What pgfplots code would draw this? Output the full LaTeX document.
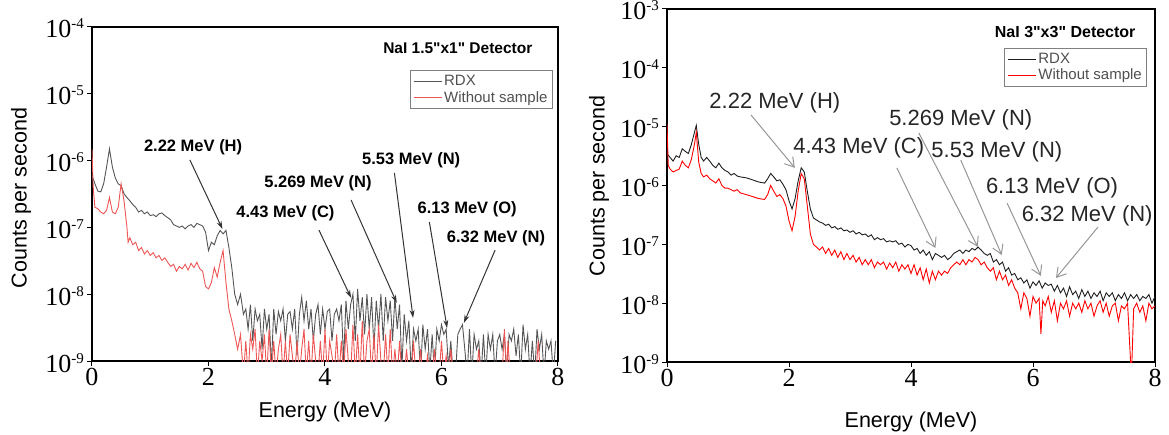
\documentclass[border=0pt]{standalone}
\usepackage{fontspec}
\setmainfont{Liberation Sans}
\newfontfamily\timesfont{Liberation Serif}
\newfontfamily\titlefont{Liberation Sans}
\usepackage{pgfplots}
\pgfplotsset{compat=1.18}
\usepackage{pgfplotstable}
\usetikzlibrary{arrows.meta}

\definecolor{lblack}{RGB}{85,85,85}
\definecolor{lred}{RGB}{238,85,85}
\definecolor{rblack}{RGB}{30,30,30}
\definecolor{rred}{RGB}{255,0,0}
\definecolor{arrgray}{RGB}{150,150,150}
\definecolor{legtext}{RGB}{80,80,80}

% ---------------- left panel: NaI 1.5"x1" ----------------
\pgfplotstableread[row sep=\\]{
x y\\
0 6e-7\\ 0.05 4.5e-7\\ 0.1 3.5e-7\\ 0.15 3.4e-7\\ 0.2 4.5e-7\\ 0.25 8e-7\\ 0.3 1.5e-6\\ 0.35 8e-7\\ 0.4 5.5e-7\\ 0.45 4.5e-7\\
0.5 4.2e-7\\ 0.55 3.2e-7\\ 0.6 2.8e-7\\ 0.65 2.5e-7\\ 0.7 2.2e-7\\ 0.75 2e-7\\ 0.8 1.7e-7\\ 0.85 1.8e-7\\ 0.9 1.6e-7\\ 0.95 1.7e-7\\
1.0 1.5e-7\\ 1.05 1.55e-7\\ 1.1 1.45e-7\\ 1.15 1.6e-7\\ 1.2 1.65e-7\\ 1.25 1.5e-7\\ 1.3 1.4e-7\\ 1.35 1.3e-7\\ 1.4 1.1e-7\\ 1.45 1.05e-7\\
1.5 1e-7\\ 1.55 1.05e-7\\ 1.6 9.5e-8\\ 1.65 1.05e-7\\ 1.7 1.1e-7\\ 1.75 1e-7\\ 1.8 1.15e-7\\ 1.85 1.1e-7\\ 1.9 1.05e-7\\ 1.95 8.5e-8\\
2.0 4.5e-8\\ 2.05 6e-8\\ 2.1 5.5e-8\\ 2.15 7.5e-8\\ 2.2 9e-8\\ 2.25 8e-8\\ 2.3 9e-8\\ 2.35 5e-8\\ 2.4 2.5e-8\\ 2.45 1e-8\\
2.5 7e-9\\ 2.55 1e-8\\ 2.6 5e-9\\ 2.64 6e-9\\ 2.68 3e-9\\ 2.72 7e-9\\ 2.76 2e-9\\ 2.80 6e-9\\ 2.84 4e-9\\ 2.88 5e-9\\
2.92 1.5e-9\\ 2.96 6e-9\\ 3.00 3e-9\\ 3.04 5e-9\\ 3.08 8e-10\\ 3.12 6e-9\\ 3.16 2.5e-9\\ 3.20 5.5e-9\\ 3.24 4e-9\\ 3.28 6e-9\\
3.32 2e-9\\ 3.36 5e-9\\ 3.40 5.5e-9\\ 3.44 3e-9\\ 3.48 6e-9\\ 3.52 1.2e-9\\ 3.56 5e-9\\ 3.60 9e-9\\ 3.64 4e-9\\ 3.68 8e-9\\
3.72 3e-9\\ 3.76 6e-9\\ 3.80 2e-9\\ 3.84 5e-9\\ 3.88 7e-9\\ 3.92 2.5e-9\\ 3.96 6e-9\\ 4.00 3e-9\\ 4.04 5.5e-9\\ 4.08 6e-9\\
4.12 2e-9\\ 4.16 5e-9\\ 4.20 6e-9\\ 4.24 4e-9\\ 4.28 7e-9\\ 4.32 1e-9\\ 4.36 8e-9\\ 4.40 3e-9\\ 4.44 7e-9\\ 4.48 1e-8\\
4.52 2e-9\\ 4.56 1.2e-8\\ 4.60 4e-9\\ 4.64 9e-9\\ 4.68 2.5e-9\\ 4.72 1e-8\\ 4.76 3e-9\\ 4.80 9e-9\\ 4.84 1.5e-9\\ 4.88 8e-9\\
4.92 3e-9\\ 4.96 1e-8\\ 5.00 2e-9\\ 5.04 9e-9\\ 5.08 4e-9\\ 5.12 8e-9\\ 5.16 2e-9\\ 5.20 9e-9\\ 5.24 3e-9\\ 5.28 7e-9\\
5.32 8e-10\\ 5.36 5e-9\\ 5.40 2e-9\\ 5.44 4e-9\\ 5.48 7e-10\\ 5.52 3e-9\\ 5.56 2e-9\\ 5.60 3e-9\\ 5.64 6e-10\\ 5.68 3.5e-9\\
5.72 1.5e-9\\ 5.76 3e-9\\ 5.80 7e-10\\ 5.84 2.5e-9\\ 5.88 6e-10\\ 5.92 3e-9\\ 5.96 2e-9\\ 6.00 3.5e-9\\ 6.04 2.5e-9\\ 6.08 3e-9\\
6.12 8e-10\\ 6.16 2e-9\\ 6.20 6e-10\\ 6.24 6e-10\\ 6.28 2.5e-9\\ 6.32 3e-9\\ 6.36 3.5e-9\\ 6.40 1.5e-9\\ 6.44 6e-10\\ 6.48 3e-9\\
6.52 6e-10\\ 6.56 2.5e-9\\ 6.60 1.5e-9\\ 6.64 2e-9\\ 6.68 6e-10\\ 6.72 2.5e-9\\ 6.76 6e-10\\ 6.80 2.5e-9\\ 6.84 1.5e-9\\ 6.88 2.5e-9\\
6.92 6e-10\\ 6.96 2e-9\\ 7.00 2.5e-9\\ 7.04 1.5e-9\\ 7.08 2.5e-9\\ 7.12 6e-10\\ 7.16 2.5e-9\\ 7.20 2e-9\\ 7.24 3e-9\\ 7.28 1.2e-9\\
7.32 2.5e-9\\ 7.36 6e-10\\ 7.40 3.5e-9\\ 7.44 1.5e-9\\ 7.48 2.5e-9\\ 7.52 6e-10\\ 7.56 2e-9\\ 7.60 6e-10\\ 7.64 3e-9\\ 7.68 1.5e-9\\
7.72 2.5e-9\\ 7.76 6e-10\\ 7.80 2e-9\\ 7.84 1.5e-9\\ 7.88 2e-9\\ 7.92 6e-10\\ 7.96 2e-9\\
}\leftrdx

\pgfplotstableread[row sep=\\]{
x y\\
0 1.5e-6\\ 0.02 4e-7\\ 0.05 2e-7\\ 0.1 1.9e-7\\ 0.15 1.7e-7\\ 0.2 1.6e-7\\ 0.25 1.8e-7\\ 0.3 2.8e-7\\ 0.35 1.7e-7\\ 0.4 1.6e-7\\
0.45 2e-7\\ 0.5 4.5e-7\\ 0.55 2.5e-7\\ 0.6 1e-7\\ 0.62 6e-8\\ 0.65 7e-8\\ 0.7 5.5e-8\\ 0.75 6e-8\\ 0.8 4.5e-8\\ 0.85 5e-8\\
0.9 4e-8\\ 0.95 4.5e-8\\ 1.0 3.8e-8\\ 1.05 4.2e-8\\ 1.1 3.5e-8\\ 1.15 3.8e-8\\ 1.2 3.2e-8\\ 1.25 3.5e-8\\ 1.3 3e-8\\ 1.35 2.6e-8\\
1.4 2.8e-8\\ 1.45 2.2e-8\\ 1.5 2.6e-8\\ 1.55 2.4e-8\\ 1.6 2.8e-8\\ 1.65 2.3e-8\\ 1.7 2.9e-8\\ 1.75 2.5e-8\\ 1.8 3e-8\\ 1.85 2.4e-8\\
1.9 2.2e-8\\ 1.95 1.3e-8\\ 2.0 1.2e-8\\ 2.05 1.5e-8\\ 2.1 2.5e-8\\ 2.15 1.8e-8\\ 2.2 3e-8\\ 2.25 4.5e-8\\ 2.3 1.5e-8\\ 2.35 6e-9\\
2.4 4e-9\\ 2.45 2.5e-9\\ 2.5 1.5e-9\\ 2.55 2.5e-9\\ 2.6 6e-10\\ 2.64 2e-9\\ 2.68 6e-10\\ 2.72 2.5e-9\\ 2.76 1.5e-9\\ 2.80 3e-9\\
2.84 6e-10\\ 2.88 2e-9\\ 2.92 1e-9\\ 2.96 2.5e-9\\ 3.00 6e-10\\ 3.04 3e-9\\ 3.08 6e-10\\ 3.12 2e-9\\ 3.16 6e-10\\ 3.20 1.5e-9\\
3.24 2.5e-9\\ 3.28 6e-10\\ 3.32 2e-9\\ 3.36 6e-10\\ 3.40 2.5e-9\\ 3.44 1.2e-9\\ 3.48 6e-10\\ 3.52 2e-9\\ 3.56 6e-10\\ 3.60 1.5e-9\\
3.64 3e-9\\ 3.68 6e-10\\ 3.72 2e-9\\ 3.76 6e-10\\ 3.80 2.5e-9\\ 3.84 1e-9\\ 3.88 6e-10\\ 3.92 2e-9\\ 3.96 6e-10\\ 4.00 3e-9\\
4.04 6e-10\\ 4.08 2e-9\\ 4.12 1.2e-9\\ 4.16 6e-10\\ 4.20 2.5e-9\\ 4.24 6e-10\\ 4.28 2e-9\\ 4.32 6e-10\\ 4.36 3e-9\\ 4.40 1e-9\\
4.44 6e-10\\ 4.48 3.5e-9\\ 4.52 6e-10\\ 4.56 2.5e-9\\ 4.60 6e-10\\ 4.64 4e-9\\ 4.68 6e-10\\ 4.72 2e-9\\ 4.76 3e-9\\ 4.80 6e-10\\
4.84 2.5e-9\\ 4.88 6e-10\\ 4.92 3.5e-9\\ 4.96 1e-9\\ 5.00 6e-10\\ 5.04 2.5e-9\\ 5.08 6e-10\\ 5.12 3e-9\\ 5.16 6e-10\\ 5.20 1.5e-9\\
5.24 6e-10\\ 5.28 2e-9\\ 5.32 6e-10\\ 5.36 6e-10\\ 5.40 1.5e-9\\ 5.44 6e-10\\ 5.48 6e-10\\ 5.52 2e-9\\ 5.56 6e-10\\ 5.60 6e-10\\
5.64 1.5e-9\\ 5.68 6e-10\\ 5.72 6e-10\\ 5.76 1.2e-9\\ 5.80 6e-10\\ 5.84 6e-10\\ 5.88 1.5e-9\\ 5.92 6e-10\\ 5.96 6e-10\\ 6.00 2e-9\\
6.04 6e-10\\ 6.08 1.2e-9\\ 6.12 6e-10\\ 6.16 1.5e-9\\ 6.20 6e-10\\ 6.60 6e-10\\ 6.64 1.5e-9\\ 6.68 6e-10\\ 7.04 6e-10\\ 7.08 3e-9\\
7.12 6e-10\\ 7.14 2e-9\\ 7.18 6e-10\\ 7.62 6e-10\\ 7.66 2e-9\\ 7.70 6e-10\\ 7.96 6e-10\\
}\leftbg

% ---------------- right panel: NaI 3"x3" ----------------
\pgfplotstableread[row sep=\\]{
x y\\
0 3.5e-6\\ 0.05 3e-6\\ 0.1 2.6e-6\\ 0.15 3.2e-6\\ 0.2 3e-6\\ 0.25 4.2e-6\\ 0.3 3.8e-6\\ 0.35 3.5e-6\\ 0.4 5e-6\\ 0.45 8e-6\\
0.48 1.05e-5\\ 0.52 5e-6\\ 0.56 3e-6\\ 0.6 2.6e-6\\ 0.65 3e-6\\ 0.7 2.6e-6\\ 0.75 2.2e-6\\ 0.8 2e-6\\ 0.85 2.4e-6\\ 0.9 2e-6\\
0.95 1.8e-6\\ 1.0 1.7e-6\\ 1.05 1.5e-6\\ 1.1 1.6e-6\\ 1.15 1.45e-6\\ 1.2 1.4e-6\\ 1.3 1.35e-6\\ 1.4 1.25e-6\\ 1.5 1.15e-6\\ 1.6 1.1e-6\\
1.65 1.3e-6\\ 1.7 1.6e-6\\ 1.75 1.4e-6\\ 1.8 1.2e-6\\ 1.85 1.25e-6\\ 1.9 1.05e-6\\ 1.95 8.5e-7\\ 2.0 5.5e-7\\ 2.05 4e-7\\ 2.1 6e-7\\
2.15 1.2e-6\\ 2.2 2e-6\\ 2.25 1.7e-6\\ 2.3 8e-7\\ 2.35 4e-7\\ 2.4 2.8e-7\\ 2.45 2.6e-7\\ 2.5 2.4e-7\\ 2.55 2.3e-7\\ 2.6 2.1e-7\\
2.65 2.2e-7\\ 2.7 1.9e-7\\ 2.75 2e-7\\ 2.8 1.8e-7\\ 2.85 1.9e-7\\ 2.9 1.7e-7\\ 2.95 1.75e-7\\ 3.0 1.6e-7\\ 3.05 1.7e-7\\ 3.1 1.5e-7\\
3.15 1.6e-7\\ 3.2 1.45e-7\\ 3.25 1.5e-7\\ 3.3 1.35e-7\\ 3.35 1.45e-7\\ 3.4 1.2e-7\\ 3.45 1.3e-7\\ 3.5 1.2e-7\\ 3.55 1.25e-7\\ 3.6 1.1e-7\\
3.65 1.15e-7\\ 3.7 1.1e-7\\ 3.75 1.15e-7\\ 3.8 1e-7\\ 3.85 1.05e-7\\ 3.9 9e-8\\ 3.95 1e-7\\ 4.0 9.5e-8\\ 4.05 8e-8\\ 4.1 8.5e-8\\
4.15 7e-8\\ 4.2 8e-8\\ 4.25 6.5e-8\\ 4.3 7.5e-8\\ 4.35 5.5e-8\\ 4.4 7e-8\\ 4.45 6.5e-8\\ 4.5 6e-8\\ 4.55 6.5e-8\\ 4.6 5.5e-8\\
4.65 6e-8\\ 4.7 7e-8\\ 4.75 7.5e-8\\ 4.8 8e-8\\ 4.85 7e-8\\ 4.9 8e-8\\ 4.95 7.5e-8\\ 5.0 8.5e-8\\ 5.05 8e-8\\ 5.1 9e-8\\
5.15 8e-8\\ 5.2 7e-8\\ 5.25 6.5e-8\\ 5.3 7e-8\\ 5.35 5e-8\\ 5.4 5.5e-8\\ 5.45 4.5e-8\\ 5.5 5e-8\\ 5.55 3.5e-8\\ 5.6 4e-8\\
5.65 3e-8\\ 5.7 3.2e-8\\ 5.75 2.5e-8\\ 5.8 2.7e-8\\ 5.85 2.2e-8\\ 5.9 2.5e-8\\ 5.95 1.8e-8\\ 6.0 2.3e-8\\ 6.05 2e-8\\ 6.1 2.4e-8\\
6.15 1.8e-8\\ 6.2 2.2e-8\\ 6.25 2e-8\\ 6.3 2.1e-8\\ 6.35 1.6e-8\\ 6.4 2e-8\\ 6.45 1.5e-8\\ 6.5 1.8e-8\\ 6.55 1.3e-8\\ 6.6 1.9e-8\\
6.65 1.4e-8\\ 6.7 1.6e-8\\ 6.75 1.2e-8\\ 6.8 1.7e-8\\ 6.85 1.3e-8\\ 6.9 1.6e-8\\ 6.95 1.2e-8\\ 7.0 1.5e-8\\ 7.05 1.3e-8\\ 7.1 1.6e-8\\
7.15 1.1e-8\\ 7.2 1.5e-8\\ 7.25 1.3e-8\\ 7.3 1.5e-8\\ 7.35 1.1e-8\\ 7.4 1.4e-8\\ 7.45 1.2e-8\\ 7.5 1.5e-8\\ 7.55 1.1e-8\\ 7.6 1.4e-8\\
7.65 1.2e-8\\ 7.7 1.4e-8\\ 7.75 1.1e-8\\ 7.8 1.3e-8\\ 7.85 1.2e-8\\ 7.9 1.4e-8\\ 7.95 1e-8\\ 8.0 1.3e-8\\
}\rightrdx

\pgfplotstableread[row sep=\\]{
x y\\
0 1.1e-5\\ 0.02 2.2e-6\\ 0.05 1.9e-6\\ 0.1 1.7e-6\\ 0.15 1.8e-6\\ 0.2 1.9e-6\\ 0.25 2.6e-6\\ 0.3 2.2e-6\\ 0.35 2e-6\\ 0.4 2.8e-6\\
0.45 5e-6\\ 0.48 8e-6\\ 0.52 2.5e-6\\ 0.56 1.6e-6\\ 0.6 1.4e-6\\ 0.65 1.5e-6\\ 0.7 1.3e-6\\ 0.75 1.2e-6\\ 0.8 1.1e-6\\ 0.85 1.3e-6\\
0.9 1e-6\\ 0.95 9e-7\\ 1.0 9e-7\\ 1.1 8e-7\\ 1.15 8.5e-7\\ 1.2 7.5e-7\\ 1.3 7e-7\\ 1.4 6.5e-7\\ 1.5 6e-7\\ 1.6 5.8e-7\\
1.65 7e-7\\ 1.7 1e-6\\ 1.75 8e-7\\ 1.8 6.5e-7\\ 1.85 7e-7\\ 1.9 6e-7\\ 1.95 4.5e-7\\ 2.0 2.5e-7\\ 2.05 1.7e-7\\ 2.1 3e-7\\
2.15 8e-7\\ 2.2 1.6e-6\\ 2.25 1.3e-6\\ 2.3 4.5e-7\\ 2.35 1.5e-7\\ 2.4 1e-7\\ 2.45 9e-8\\ 2.5 8e-8\\ 2.55 9e-8\\ 2.6 7e-8\\
2.65 8.5e-8\\ 2.7 6.5e-8\\ 2.75 8e-8\\ 2.8 6e-8\\ 2.85 7.5e-8\\ 2.9 5.5e-8\\ 2.95 7e-8\\ 3.0 5.5e-8\\ 3.05 6.5e-8\\ 3.1 5e-8\\
3.15 6e-8\\ 3.2 4.5e-8\\ 3.25 5.5e-8\\ 3.3 4.5e-8\\ 3.35 5.5e-8\\ 3.4 4e-8\\ 3.45 5e-8\\ 3.5 4.5e-8\\ 3.55 5e-8\\ 3.6 3.8e-8\\
3.65 4.8e-8\\ 3.7 4e-8\\ 3.75 5e-8\\ 3.8 3.5e-8\\ 3.85 4.5e-8\\ 3.9 3.8e-8\\ 3.95 4.5e-8\\ 4.0 3.2e-8\\ 4.05 4.5e-8\\ 4.1 3e-8\\
4.15 4e-8\\ 4.2 2.5e-8\\ 4.25 3.8e-8\\ 4.3 2.2e-8\\ 4.35 3.5e-8\\ 4.4 2.5e-8\\ 4.45 3.5e-8\\ 4.5 3e-8\\ 4.55 3.5e-8\\ 4.6 3.2e-8\\
4.65 4e-8\\ 4.7 4.5e-8\\ 4.75 5e-8\\ 4.8 4.5e-8\\ 4.85 5.5e-8\\ 4.9 4.5e-8\\ 4.95 5.5e-8\\ 5.0 5e-8\\ 5.05 6e-8\\ 5.1 5.5e-8\\
5.15 4.5e-8\\ 5.2 5e-8\\ 5.25 4e-8\\ 5.3 3.5e-8\\ 5.35 4e-8\\ 5.4 2.5e-8\\ 5.45 3.5e-8\\ 5.5 2.5e-8\\ 5.55 3e-8\\ 5.6 2e-8\\
5.65 2.5e-8\\ 5.7 1.8e-8\\ 5.75 1.5e-8\\ 5.8 8e-9\\ 5.85 1.5e-8\\ 5.9 1.2e-8\\ 5.95 6e-9\\ 6.0 1.3e-8\\ 6.05 1e-8\\ 6.1 1.2e-8\\
6.13 3e-9\\ 6.16 1.1e-8\\ 6.2 9e-9\\ 6.25 1.3e-8\\ 6.3 7e-9\\ 6.35 1.1e-8\\ 6.4 5e-9\\ 6.45 1e-8\\ 6.5 8e-9\\ 6.55 1.1e-8\\
6.6 6e-9\\ 6.65 1e-8\\ 6.7 8e-9\\ 6.75 1e-8\\ 6.8 7e-9\\ 6.85 1.1e-8\\ 6.9 8e-9\\ 6.95 1e-8\\ 7.0 6e-9\\ 7.05 9e-9\\
7.1 1.1e-8\\ 7.15 7e-9\\ 7.2 1e-8\\ 7.25 6e-9\\ 7.3 9e-9\\ 7.35 1e-8\\ 7.4 5e-9\\ 7.45 9e-9\\ 7.5 8e-9\\ 7.55 1e-8\\
7.6 1e-9\\ 7.62 9e-10\\ 7.65 8e-9\\ 7.7 1e-8\\ 7.75 7e-9\\ 7.8 9e-9\\ 7.85 5e-9\\ 7.9 1e-8\\ 7.95 8e-9\\ 8.0 9e-9\\
}\rightbg

\newcommand{\tickfont}{\timesfont\fontsize{26}{28}\selectfont}
\newcommand{\labfont}{\fontsize{21.5}{24}\selectfont}
\newcommand{\dec}[1]{10\raisebox{9pt}{\fontsize{15}{15}\selectfont #1}}

\begin{document}
\begin{tikzpicture}[x=1pt,y=1pt]
\path[use as bounding box] (0,0) rectangle (1169,435);

% ---------------- left axis ----------------
\begin{axis}[
  at={(92pt,74pt)}, anchor=south west,
  scale only axis,
  width=466pt, height=334pt,
  ymode=log,
  xmin=0, xmax=8,
  ymin=1e-9, ymax=1e-4,
  xtick={0,2,4,6,8},
  xticklabels={0,2,4,6,8},
  ytick={1e-9,1e-8,1e-7,1e-6,1e-5,1e-4},
  yticklabels={\dec{-9},\dec{-8},\dec{-7},\dec{-6},\dec{-5},\dec{-4}},
  xtick pos=bottom, ytick pos=left,
  tick align=outside,
  major tick length=5pt,
  yminorticks=false, xminorticks=false,
  axis line style={line width=2.2pt},
  major tick style={black, line width=1pt},
  xticklabel style={font=\tickfont, inner sep=2pt},
  yticklabel style={font=\tickfont, inner sep=3pt, anchor=base east, yshift=-11pt},
  clip mode=individual,
  xlabel={Energy (MeV)},
  ylabel={Counts per second},
  xlabel style={font=\labfont, at={(axis description cs:0.5,-0.153)}, anchor=center},
  ylabel style={font=\labfont, at={(axis description cs:-0.152,0.488)}, anchor=center},
  legend cell align=left,
  legend style={at={(axis description cs:0.989,0.871)}, anchor=north east,
    draw=gray, line width=0.8pt, font=\fontsize{15}{17}\selectfont,
    inner sep=3pt, row sep=0pt},
]
\addplot[draw=lblack, line width=0.9pt,
  legend image code/.code={\draw[draw=lblack, line width=1pt] (0pt,0pt) -- (28pt,0pt);}] table {\leftrdx};
\addlegendentry{\textcolor{legtext}{RDX}}
\addplot[draw=lred, line width=0.9pt,
  legend image code/.code={\draw[draw=lred, line width=1pt] (0pt,0pt) -- (28pt,0pt);}] table {\leftbg};
\addlegendentry{\textcolor{legtext}{Without sample}}

\node[font=\titlefont\bfseries\fontsize{15.5}{18}\selectfont] at (axis description cs:0.785,0.937) {NaI 1.5"x1" Detector};

\node[font=\bfseries\fontsize{16.5}{19}\selectfont, inner sep=0pt] at (axis description cs:0.217,0.641) {2.22 MeV (H)};
\node[font=\bfseries\fontsize{16.5}{19}\selectfont, inner sep=0pt] at (axis description cs:0.415,0.443) {4.43 MeV (C)};
\node[font=\bfseries\fontsize{16.5}{19}\selectfont, inner sep=0pt] at (axis description cs:0.485,0.533) {5.269 MeV (N)};
\node[font=\bfseries\fontsize{16.5}{19}\selectfont, inner sep=0pt] at (axis description cs:0.685,0.602) {5.53 MeV (N)};
\node[font=\bfseries\fontsize{16.5}{19}\selectfont, inner sep=0pt] at (axis description cs:0.805,0.455) {6.13 MeV (O)};
\node[font=\bfseries\fontsize{16.5}{19}\selectfont, inner sep=0pt] at (axis description cs:0.867,0.368) {6.32 MeV (N)};

\draw[black!80, line width=1pt, -{Stealth[length=8pt,width=5pt]}] (axis description cs:0.210,0.602) -- (axis description cs:0.280,0.395);
\draw[black!80, line width=1pt, -{Stealth[length=8pt,width=5pt]}] (axis description cs:0.487,0.392) -- (axis description cs:0.556,0.189);
\draw[black!80, line width=1pt, -{Stealth[length=8pt,width=5pt]}] (axis description cs:0.556,0.482) -- (axis description cs:0.654,0.174);
\draw[black!80, line width=1pt, -{Stealth[length=8pt,width=5pt]}] (axis description cs:0.649,0.563) -- (axis description cs:0.689,0.129);
\draw[black!80, line width=1pt, -{Stealth[length=8pt,width=5pt]}] (axis description cs:0.724,0.416) -- (axis description cs:0.762,0.099);
\draw[black!80, line width=1pt, -{Stealth[length=8pt,width=5pt]}] (axis description cs:0.865,0.332) -- (axis description cs:0.798,0.114);
\end{axis}

% ---------------- right axis ----------------
\begin{axis}[
  at={(667pt,73pt)}, anchor=south west,
  scale only axis,
  width=488pt, height=353pt,
  ymode=log,
  xmin=0, xmax=8,
  ymin=1e-9, ymax=1e-3,
  xtick={0,2,4,6,8},
  xticklabels={0,2,4,6,8},
  ytick={1e-9,1e-8,1e-7,1e-6,1e-5,1e-4,1e-3},
  yticklabels={\dec{-9},\dec{-8},\dec{-7},\dec{-6},\dec{-5},\dec{-4},\dec{-3}},
  xtick pos=bottom, ytick pos=left,
  tick align=outside,
  major tick length=5pt,
  yminorticks=false, xminorticks=false,
  axis line style={line width=2.2pt},
  major tick style={black, line width=1pt},
  xticklabel style={font=\tickfont, inner sep=2pt},
  yticklabel style={font=\tickfont, inner sep=3pt, anchor=base east, yshift=-11pt},
  clip mode=individual,
  xlabel={Energy (MeV)},
  ylabel={Counts per second},
  xlabel style={font=\labfont, at={(axis description cs:0.5,-0.17)}, anchor=center},
  ylabel style={font=\labfont, at={(axis description cs:-0.139,0.499)}, anchor=center},
  legend cell align=left,
  legend style={at={(axis description cs:0.984,0.890)}, anchor=north east,
    draw=gray, line width=0.8pt, font=\fontsize{15}{17}\selectfont,
    inner sep=3pt, row sep=0pt},
]
\addplot[draw=rblack, line width=0.9pt,
  legend image code/.code={\draw[draw=rblack, line width=1pt] (0pt,0pt) -- (28pt,0pt);}] table {\rightrdx};
\addlegendentry{\textcolor{legtext}{RDX}}
\addplot[draw=rred, line width=0.9pt,
  legend image code/.code={\draw[draw=rred, line width=1pt] (0pt,0pt) -- (28pt,0pt);}] table {\rightbg};
\addlegendentry{\textcolor{legtext}{Without sample}}

\node[font=\titlefont\bfseries\fontsize{16}{19}\selectfont] at (axis description cs:0.816,0.935) {NaI 3"x3" Detector};

\node[font=\fontsize{22}{26}\selectfont, inner sep=0pt, text=black!85] at (axis description cs:0.221,0.734) {2.22 MeV (H)};
\node[font=\fontsize{22}{26}\selectfont, inner sep=0pt, text=black!85] at (axis description cs:0.393,0.606) {4.43 MeV (C)};
\node[font=\fontsize{22}{26}\selectfont, inner sep=0pt, text=black!85] at (axis description cs:0.602,0.686) {5.269 MeV (N)};
\node[font=\fontsize{22}{26}\selectfont, inner sep=0pt, text=black!85] at (axis description cs:0.676,0.595) {5.53 MeV (N)};
\node[font=\fontsize{22}{26}\selectfont, inner sep=0pt, text=black!85] at (axis description cs:0.789,0.493) {6.13 MeV (O)};
\node[font=\fontsize{22}{26}\selectfont, inner sep=0pt, text=black!85] at (axis description cs:0.861,0.414) {6.32 MeV (N)};

\draw[arrgray, line width=1pt, -{Straight Barb[length=9pt,width=11pt]}] (axis description cs:0.172,0.700) -- (axis description cs:0.262,0.550);
\draw[arrgray, line width=1pt, -{Straight Barb[length=9pt,width=11pt]}] (axis description cs:0.471,0.550) -- (axis description cs:0.550,0.323);
\draw[arrgray, line width=1pt, -{Straight Barb[length=9pt,width=11pt]}] (axis description cs:0.516,0.649) -- (axis description cs:0.637,0.326);
\draw[arrgray, line width=1pt, -{Straight Barb[length=9pt,width=11pt]}] (axis description cs:0.602,0.572) -- (axis description cs:0.686,0.303);
\draw[arrgray, line width=1pt, -{Straight Barb[length=9pt,width=11pt]}] (axis description cs:0.697,0.450) -- (axis description cs:0.766,0.244);
\draw[arrgray, line width=1pt, -{Straight Barb[length=9pt,width=11pt]}] (axis description cs:0.883,0.382) -- (axis description cs:0.797,0.238);
\end{axis}
\end{tikzpicture}
\end{document}
